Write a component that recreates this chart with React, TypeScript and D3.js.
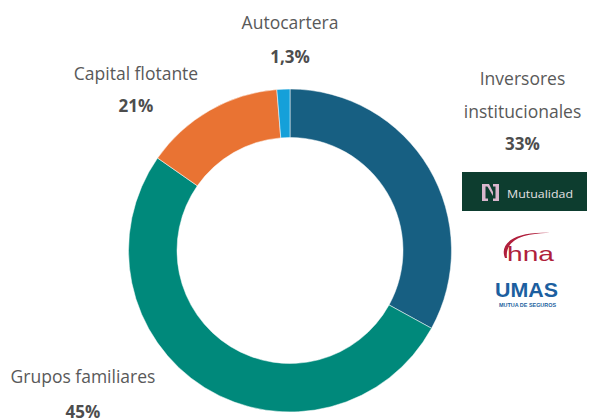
import React from "react";
import * as d3 from "d3";

const categories = ["Inversores institucionales", "Grupos familiares", "Capital flotante", "Autocartera"];
const sliceValues = [33, 51.7, 14, 1.3];
const shareLabels = ["33%", "45%", "21%", "1,3%"];
const colors = ["#175F82", "#00897B", "#E97333", "#15A0D9"];

const W = 589;
const H = 419;
const cx = 290;
const cy = 250.5;
const rOuter = 161.5;
const rInner = 113;

const labelLayout = [
  { lines: ["Inversores", "institucionales"], x: 522.5, y: 85, pctY: 150 },
  { lines: ["Grupos familiares"], x: 83, y: 383, pctY: 418 },
  { lines: ["Capital flotante"], x: 136, y: 80, pctY: 112 },
  { lines: ["Autocartera"], x: 290, y: 29, pctY: 63 },
];

export default function App() {
  const pie = d3.pie<number>().sort(null).value((d) => d);
  const arcs = pie(sliceValues);
  const arcGen = d3.arc<d3.PieArcDatum<number>>().innerRadius(rInner).outerRadius(rOuter);
  const font = "'Open Sans', 'Noto Sans', sans-serif";
  const logoFont = "'Liberation Sans', Arial, sans-serif";

  return (
    <svg
      width={W}
      height={H}
      style={{ position: "absolute", left: 0, top: 0, background: "#fff" }}
      fontFamily={font}
    >
      <g transform={`translate(${cx},${cy})`}>
        {arcs.map((a, i) => (
          <path key={categories[i]} d={arcGen(a) || ""} fill={colors[i]} stroke="#fff" strokeWidth={0.5} />
        ))}
      </g>
      {labelLayout.map((l, i) => (
        <g key={i}>
          {l.lines.map((t, j) => (
            <text key={j} x={l.x} y={l.y + j * 33} textAnchor="middle" fontSize={17.5} fill="#595959">
              {t}
            </text>
          ))}
          <text x={l.x} y={l.pctY} textAnchor="middle" fontSize={17} fontWeight={700} fill="#4D4D4D">
            {shareLabels[i]}
          </text>
        </g>
      ))}
      {/* Mutualidad logo */}
      <rect x={462} y={172} width={125} height={39} fill="#0D3D2F" />
      <g fill="#D9B6CD">
        <path d="M482,184 L488,184 L488,186.5 L485.5,186.5 L485.5,198.5 L488,198.5 L488,201 L482,201 Z" />
        <path d="M486,184 L489,184 L493,192 L493,196 Z" />
        <path d="M493,184 L499,184 L499,201 L493,201 L493,198.5 L495.5,198.5 L495.5,186.5 L493,186.5 Z" />
      </g>
      <text x={507} y={197.5} fontSize={11} fill="#E4E0E2" fontFamily={font} textLength={66} lengthAdjust="spacingAndGlyphs">
        Mutualidad
      </text>
      {/* hna logo */}
      <path d="M505,258 C499,244 514,231 550,233 C516,233 505,244 507,258 Z" fill="#B01F3C" />
      <text x={507} y={260.5} fontSize={21} fill="#B01F3C" fontFamily={logoFont} textLength={47} lengthAdjust="spacingAndGlyphs">
        hna
      </text>
      {/* UMAS logo */}
      <text x={526.5} y={297} textAnchor="middle" fontSize={21} fontWeight={800} fill="#1C5FA0" fontFamily={logoFont} textLength={63} lengthAdjust="spacingAndGlyphs">
        UMAS
      </text>
      <text x={527.5} y={307} textAnchor="middle" fontSize={5.5} fontWeight={700} fill="#1C5FA0" fontFamily={logoFont} textLength={57} lengthAdjust="spacingAndGlyphs">
        MUTUA DE SEGUROS
      </text>
    </svg>
  );
}
